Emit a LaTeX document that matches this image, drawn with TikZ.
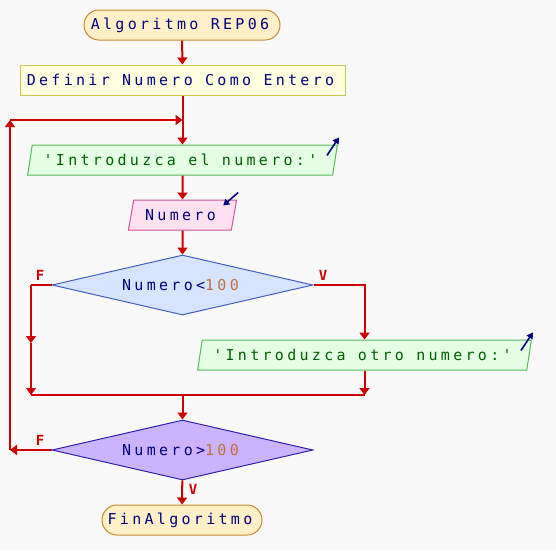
\documentclass[tikz,border=0pt]{standalone}
\usepackage{fontspec}
\newfontfamily\flowfont[LetterSpace=22]{DejaVu Sans Mono}
\newfontfamily\lblfont{DejaVu Sans Mono Bold}
\usetikzlibrary{arrows.meta,shapes.geometric,shapes.misc}
\definecolor{bg}{HTML}{F9F9F9}
\definecolor{flowred}{HTML}{CC0000}
\definecolor{txtnavy}{HTML}{000080}
\definecolor{numc}{HTML}{C07040}
\definecolor{termfill}{HTML}{FFF0C8}
\definecolor{termdraw}{HTML}{C88830}
\definecolor{procfill}{HTML}{FFFFE0}
\definecolor{procdraw}{HTML}{C8C850}
\definecolor{outfill}{HTML}{E4FFE4}
\definecolor{outdraw}{HTML}{55BB55}
\definecolor{outtxt}{HTML}{006000}
\definecolor{infill}{HTML}{FFE0F0}
\definecolor{indraw}{HTML}{CC5599}
\definecolor{d1fill}{HTML}{D6E4FF}
\definecolor{d1draw}{HTML}{4060C0}
\definecolor{d2fill}{HTML}{CCB3FF}
\definecolor{d2draw}{HTML}{3020B0}
\tikzset{
  base/.style={font=\flowfont\fontsize{15}{17}\selectfont, text=txtnavy, line width=1pt, inner sep=0pt, minimum height=30pt, execute at end node={\kern4pt}},
  term/.style={base, rounded rectangle, fill=termfill, draw=termdraw},
  procbox/.style={base, rectangle, fill=procfill, draw=procdraw},
  outbox/.style={base, trapezium, trapezium left angle=70, trapezium right angle=110, trapezium stretches=true, fill=outfill, draw=outdraw, text=outtxt},
  inbox/.style={base, trapezium, trapezium left angle=70, trapezium right angle=110, trapezium stretches=true, fill=infill, draw=indraw},
  dec/.style={base, diamond, minimum width=261pt, minimum height=60pt, shape aspect=4.35},
  flowline/.style={draw=flowred, line width=2pt},
  flow/.style={flowline, -{Triangle[width=10pt,length=7pt]}},
  icon/.style={draw=txtnavy, line width=1.6pt, -{Triangle[width=7pt,length=6pt]}},
  lbl/.style={font=\lblfont\fontsize{14}{15}\selectfont, text=flowred, inner sep=0pt}
}
\begin{document}
\begin{tikzpicture}[x=1pt,y=-1pt]
\fill[bg] (0,0) rectangle (556,550);
\node[term, minimum width=196pt] (start) at (182,25) {Algoritmo REP06};
\node[procbox, minimum width=325pt] (def) at (182.5,80) {Definir Numero Como Entero};
\node[outbox, minimum width=311pt] (out1) at (182.5,160) {'Introduzca el numero:'};
\node[inbox, minimum width=109pt] (in1) at (182.5,215) {Numero};
\node[dec, fill=d1fill, draw=d1draw] (d1) at (182.5,285) {Numero<\textcolor{numc}{100}};
\node[outbox, minimum width=335pt] (out2) at (364.5,355) {'Introduzca otro numero:'};
\node[dec, fill=d2fill, draw=d2draw] (d2) at (182.5,450) {Numero>\textcolor{numc}{100}};
\node[term, minimum width=160pt] (end) at (182,520) {FinAlgoritmo};
% coordinates
\coordinate (j1) at (182.5,120);
\coordinate (lp) at (10,450);
\coordinate (lt) at (10,120);
\coordinate (fl1) at (31,285);
\coordinate (fl2) at (31,343);
\coordinate (fl3) at (31,395);
\coordinate (jr) at (364.5,395);
\coordinate (jm) at (182.5,395);
% connectors
\draw[flow] (start) -- (def);
\draw[flow] (def) -- (out1);
\draw[flow] (out1) -- (in1);
\draw[flow] (in1) -- (d1);
\draw[flowline] (d1.west) -- (fl1);
\draw[flow] (fl1) -- (fl2);
\draw[flow] (fl2) -- (fl3);
\draw[flow] (d1.east) -| (out2.north);
\draw[flow] (out2) -- (jr);
\draw[flowline] (fl3) -- (jr);
\draw[flow] (jm) -- (d2);
\draw[flow] (d2.west) -- (lp);
\draw[flow] (lp) -- (lt);
\draw[flow] (lt) -- (j1);
\draw[flow] (d2) -- (end);
% labels
\node[lbl] (f1) at (40,275) {F};
\node[lbl] (v1) at (323,275) {V};
\node[lbl] (f2) at (40,440) {F};
\node[lbl] (v2) at (193,489) {V};
% icons
\draw[icon] ([shift={(-11,11)}]out1.top right corner) -- ([shift={(1,-7)}]out1.top right corner);
\draw[icon] ([shift={(1,-7)}]in1.top right corner) -- ([shift={(-14,6)}]in1.top right corner);
\draw[icon] ([shift={(-11,11)}]out2.top right corner) -- ([shift={(1,-7)}]out2.top right corner);
\end{tikzpicture}
\end{document}
